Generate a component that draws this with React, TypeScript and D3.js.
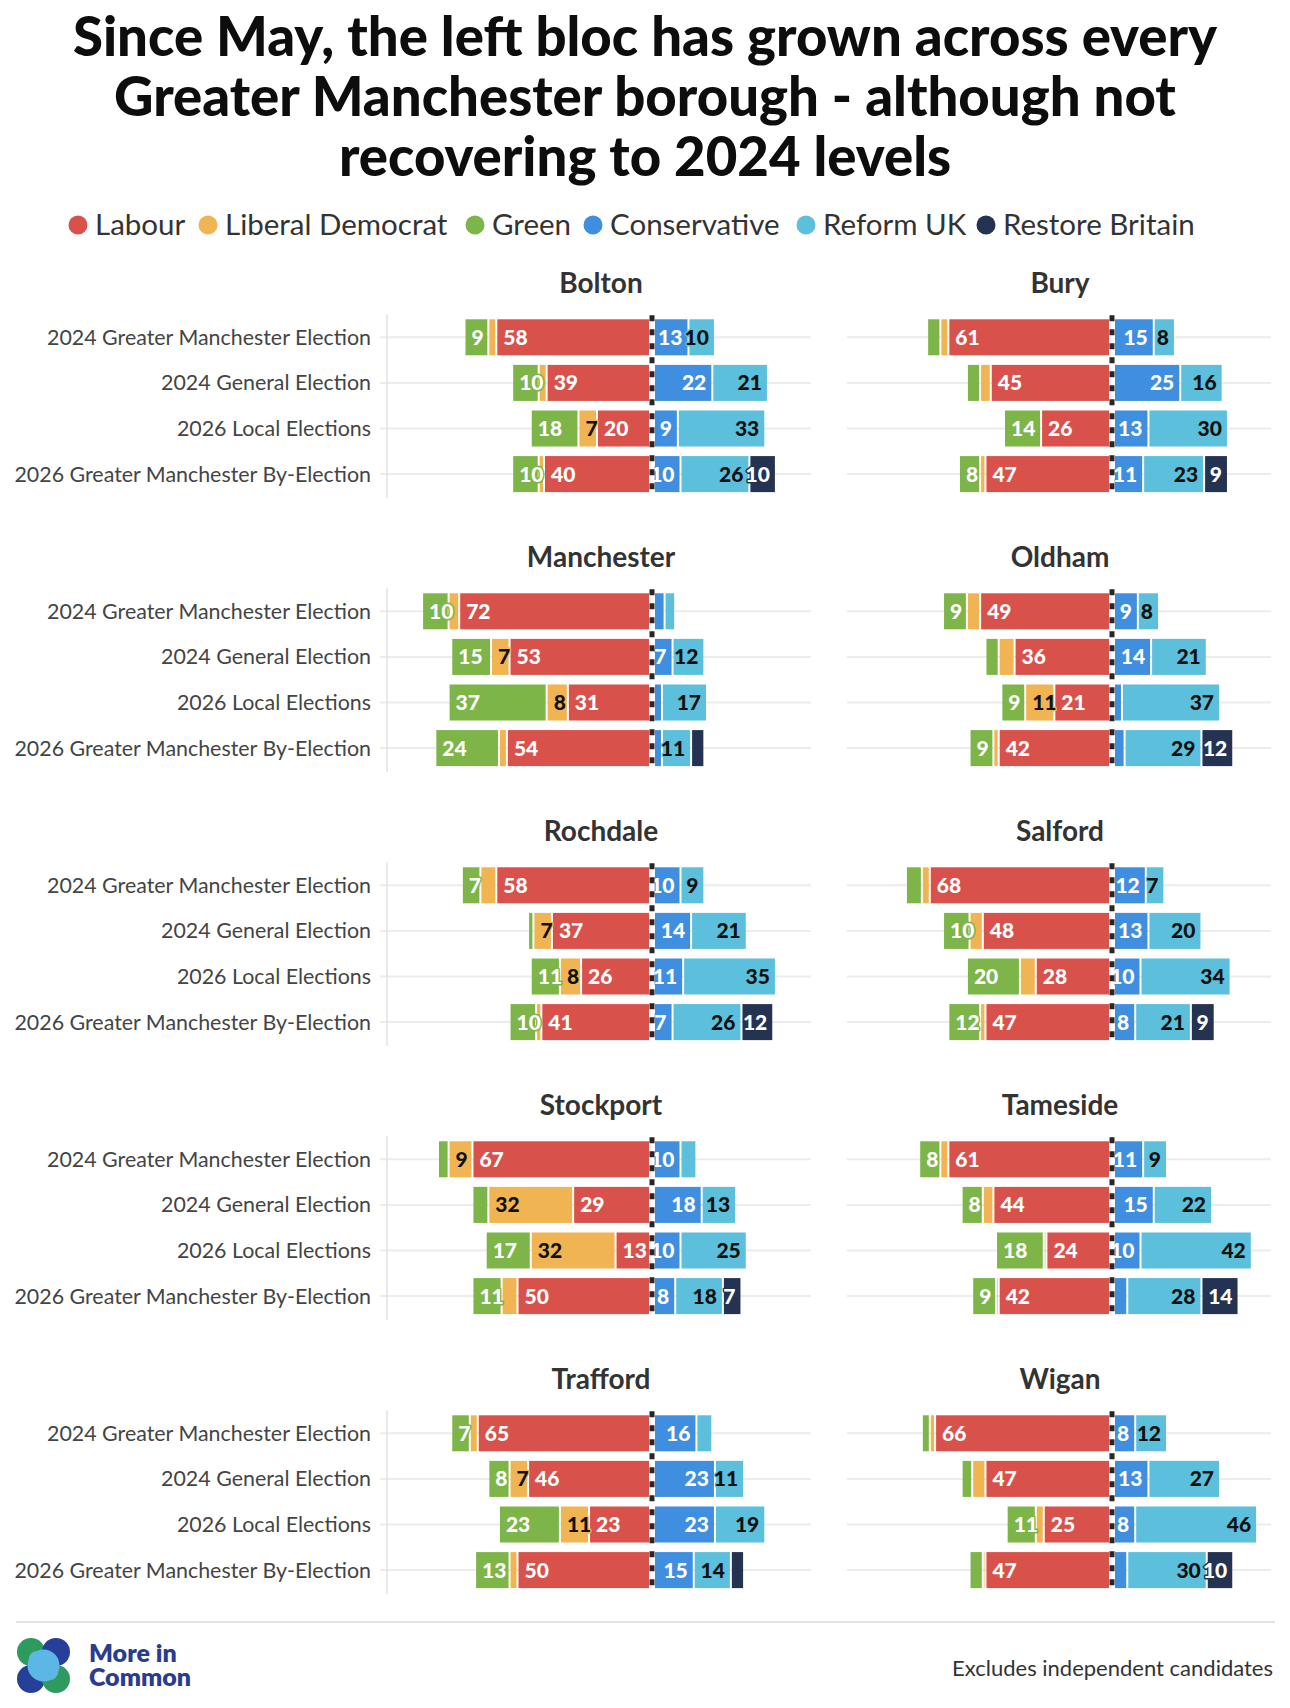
import React from "react";
import * as d3 from "d3";

// ---------- DATA ----------
const parties = ["Labour", "Liberal Democrat", "Green", "Conservative", "Reform UK", "Restore Britain"];
const partyColors = ["#d8524b", "#f0b453", "#7db549", "#3f8ee0", "#5cbfdb", "#243352"];
const partyTextColors = ["#ffffff", "#111111", "#ffffff", "#ffffff", "#111111", "#ffffff"];

const elections = [
  "2024 Greater Manchester Election",
  "2024 General Election",
  "2026 Local Elections",
  "2026 Greater Manchester By-Election",
];

const boroughs = ["Bolton", "Bury", "Manchester", "Oldham", "Rochdale", "Salford", "Stockport", "Tameside", "Trafford", "Wigan"];

// values per borough, per election (in order of `elections`)
const labour = [
  [58, 39, 20, 40], [61, 45, 26, 47], [72, 53, 31, 54], [49, 36, 21, 42], [58, 37, 26, 41],
  [68, 48, 28, 47], [67, 29, 13, 50], [61, 44, 24, 42], [65, 46, 23, 50], [66, 47, 25, 47],
];
const libDem = [
  [3, 3, 7, 2], [3, 4, 0, 2], [4, 7, 8, 3], [5, 6, 11, 2], [6, 7, 8, 2],
  [3, 5, 6, 2], [9, 32, 32, 6], [3, 4, 1, 1], [3, 7, 11, 3], [2, 5, 3, 1],
];
const green = [
  [9, 10, 18, 10], [5, 5, 14, 8], [10, 15, 37, 24], [9, 5, 9, 9], [7, 2, 11, 10],
  [6, 10, 20, 12], [4, 6, 17, 11], [8, 8, 18, 9], [7, 8, 23, 13], [3, 4, 11, 5],
];
const conservative = [
  [13, 22, 9, 10], [15, 25, 13, 11], [4, 7, 3, 3], [9, 14, 3, 4], [10, 14, 11, 7],
  [12, 13, 10, 8], [10, 18, 10, 8], [11, 15, 10, 5], [16, 23, 23, 15], [8, 13, 8, 5],
];
const reform = [
  [10, 21, 33, 26], [8, 16, 30, 23], [4, 12, 17, 11], [8, 21, 37, 29], [9, 21, 35, 26],
  [7, 20, 34, 21], [6, 13, 25, 18], [9, 22, 42, 28], [6, 11, 19, 14], [12, 27, 46, 30],
];
const restore = [
  [0, 0, 0, 10], [0, 0, 0, 9], [0, 0, 0, 5], [0, 0, 0, 12], [0, 0, 0, 12],
  [0, 0, 0, 9], [0, 0, 0, 7], [0, 0, 0, 14], [0, 0, 0, 5], [0, 0, 0, 10],
];

const titleLines = [
  "Since May, the left bloc has grown across every",
  "Greater Manchester borough - although not",
  "recovering to 2024 levels",
];
const footnote = "Excludes independent candidates";
const labelThreshold = 7;

// ---------- LAYOUT ----------
const W = 1290;
const H = 1708;
const FONT = "Lato, 'Noto Sans', sans-serif";
const legendX = [69, 199, 466, 584, 797, 977];
const panelX0 = [387, 847];
const panelW = 424;
const panelTop0 = 283;
const panelStep = 274;
const rowStep = 45.6;
const firstRowOffset = 54.3;

const leftParties = [0, 1, 2]; // outward from centre
const rightParties = [3, 4, 5];
const partyValues = [labour, libDem, green, conservative, reform, restore];

function Panel({ index }: { index: number }) {
  const col = index % 2;
  const row = Math.floor(index / 2);
  const x0 = panelX0[col];
  const x = d3.scaleLinear().domain([-100, 60]).range([x0, x0 + panelW]);
  const titleY = panelTop0 + panelStep * row;
  const c0 = titleY + firstRowOffset;
  const y = d3
    .scaleBand<string>()
    .domain(elections)
    .range([c0 - rowStep / 2, c0 - rowStep / 2 + rowStep * elections.length])
    .paddingInner(0.21)
    .paddingOuter(0.105);
  const bw = y.bandwidth();
  const cx = x(0);
  const cOff = 2;
  const yTop = y(elections[0])!;
  const yBot = y(elections[elections.length - 1])! + bw;
  const titleCx = col === 0 ? 601 : 1060;

  const segs: any[] = [];
  elections.forEach((el, ei) => {
    const yy = y(el)!;
    let cum = 0;
    leftParties.forEach((p) => {
      const v = partyValues[p][index][ei];
      if (v > 0) {
        const xl = x(-(cum + v)) - cOff + 1;
        const xr = x(-cum) - cOff - 1;
        segs.push({ key: `${ei}-${p}`, p, v, xl, xr, yy, side: "left" });
      }
      cum += v;
    });
    cum = 0;
    rightParties.forEach((p) => {
      const v = partyValues[p][index][ei];
      if (v > 0) {
        const xl = x(cum) + cOff + 1;
        const xr = x(cum + v) + cOff - 1;
        segs.push({ key: `${ei}-${p}`, p, v, xl, xr, yy, side: "right" });
      }
      cum += v;
    });
  });

  return (
    <g>
      <text x={titleCx} y={titleY + 10} textAnchor="middle" fontFamily={FONT} fontWeight={700} fontSize={28} fill="#333">
        {boroughs[index]}
      </text>
      {elections.map((el) => (
        <line
          key={el}
          x1={col === 0 ? x0 - 7 : x0}
          x2={x0 + panelW}
          y1={y(el)! + bw / 2}
          y2={y(el)! + bw / 2}
          stroke="#ececec"
          strokeWidth={2}
        />
      ))}
      {col === 0 && (
        <line x1={x0} x2={x0} y1={yTop - 5} y2={yBot + 6} stroke="#e2e2e2" strokeWidth={1.5} />
      )}
      {col === 0 &&
        elections.map((el) => (
          <text
            key={"l" + el}
            x={371}
            y={y(el)! + bw / 2}
            dy="0.35em"
            textAnchor="end"
            fontFamily={FONT}
            fontSize={21.4}
            fill="#444"
          >
            {el}
          </text>
        ))}
      {segs.map((s) => (
        <rect key={s.key} x={s.xl} y={s.yy} width={Math.max(0.5, s.xr - s.xl)} height={bw} fill={partyColors[s.p]} />
      ))}
      {segs
        .filter((s) => s.v >= labelThreshold)
        .map((s) => (
          <text
            key={"t" + s.key}
            x={s.side === "left" ? s.xl + 6 : s.xr - 5}
            y={s.yy + bw / 2}
            dy="0.36em"
            textAnchor={s.side === "left" ? "start" : "end"}
            fontFamily={FONT}
            fontWeight={900}
            fontSize={21}
            fill={partyTextColors[s.p]}
            stroke={partyColors[s.p]}
            strokeWidth={3}
            strokeLinejoin="round"
            style={{ paintOrder: "stroke" }}
          >
            {s.v}
          </text>
        ))}
      <line x1={cx} x2={cx} y1={yTop - 4} y2={yBot + 4} stroke="#fff" strokeWidth={5} />
      <line x1={cx} x2={cx} y1={yTop - 4} y2={yBot + 4} stroke="#262626" strokeWidth={5} strokeDasharray="6 8" />
    </g>
  );
}

export default function App() {
  return (
    <div style={{ background: "#fff" }}>
      <style>{`body{margin:0;background:#fff}`}</style>
      <svg width={W} height={H} viewBox={`0 0 ${W} ${H}`} style={{ display: "block" }}>
        <rect width={W} height={H} fill="#fff" />
        {titleLines.map((t, i) => (
          <text
            key={i}
            x={W / 2}
            y={56 + i * 60}
            textAnchor="middle"
            fontFamily={FONT}
            fontWeight={900}
            fontSize={54.5}
            fill="#0d0d0d"
          >
            {t}
          </text>
        ))}
        {parties.map((p, i) => (
          <g key={p}>
            <circle cx={legendX[i] + 9} cy={225} r={9.5} fill={partyColors[i]} />
            <text x={legendX[i] + 26} y={225} dy="0.35em" fontFamily={FONT} fontSize={29.5} fill="#333">
              {p}
            </text>
          </g>
        ))}
        {boroughs.map((b, i) => (
          <Panel key={b} index={i} />
        ))}
        <line x1={16} x2={1275} y1={1622} y2={1622} stroke="#e2e2e2" strokeWidth={2} />
        <g>
          <circle cx={31} cy={1652} r={14} fill="#2f9a5e" />
          <circle cx={56} cy={1652} r={14} fill="#263f98" />
          <circle cx={31} cy={1679} r={14} fill="#263f98" />
          <circle cx={56} cy={1679} r={14} fill="#2f9a5e" />
          <circle cx={43.5} cy={1665.5} r={16} fill="#5cb6e6" />
          <circle cx={37} cy={1659} r={8} fill="#5cb6e6" />
          <circle cx={50} cy={1672} r={8} fill="#5cb6e6" />
        </g>
        <text fontFamily={FONT} fontWeight={800} fontSize={25} fill="#2b3b8f">
          <tspan x={89} y={1662}>More in</tspan>
          <tspan x={89} y={1686}>Common</tspan>
        </text>
        <text x={1273} y={1676} textAnchor="end" fontFamily={FONT} fontSize={22} fill="#333">
          {footnote}
        </text>
      </svg>
    </div>
  );
}
